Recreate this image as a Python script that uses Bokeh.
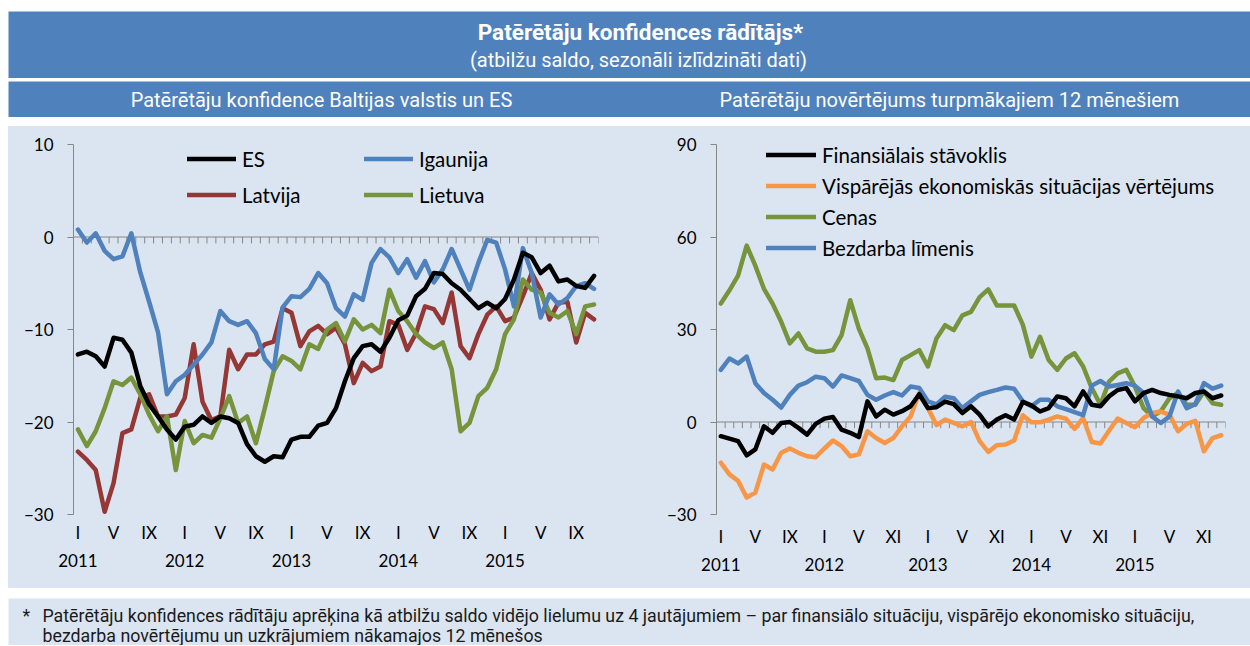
from bokeh.plotting import figure
from bokeh.layouts import column, row
from bokeh.models import Range1d, FixedTicker, Span, Legend, LegendItem, LinearAxis, Spacer
from bokeh.core.properties import value
from bokeh.embed import file_html
from bokeh.resources import INLINE

# ---------------- data ----------------
N = 59
months = list(range(N))  # Jan 2011 .. Nov 2015
left_roman = ["I", "V", "IX", "I", "V", "IX", "I", "V", "IX", "I", "V", "IX", "I", "V", "IX"]
right_roman = ["I", "V", "IX", "I", "V", "XI", "I", "V", "XI", "I", "V", "XI", "I", "V", "XI"]
years = ["2011", "2012", "2013", "2014", "2015"]

es = [-12.7, -12.4, -12.9, -14.0, -10.9, -11.1, -12.5, -16.1, -18.1, -19.4,
      -20.8, -21.9, -20.5, -20.3, -19.4, -20.1, -19.4, -19.6, -20.1, -22.4,
      -23.7, -24.3, -23.7, -23.8, -21.9, -21.6, -21.6, -20.4, -20.1, -18.5,
      -15.6, -13.1, -11.8, -11.6, -12.4, -10.9, -9.0, -8.5, -6.4, -5.6,
      -3.9, -4.0, -5.0, -5.7, -6.7, -7.7, -7.1, -7.7, -6.7, -4.6,
      -1.7, -2.2, -3.9, -3.1, -4.8, -4.6, -5.3, -5.5, -4.2]
igaunija = [0.8, -0.6, 0.4, -1.5, -2.4, -2.1, 0.4, -3.8, -7.0, -10.3,
            -17.0, -15.6, -14.9, -13.8, -12.7, -11.4, -8.0, -9.1, -9.5, -9.1,
            -10.4, -13.2, -14.3, -7.6, -6.4, -6.5, -5.6, -3.9, -5.0, -7.7,
            -8.6, -6.2, -6.8, -2.8, -1.3, -2.2, -3.9, -2.4, -4.4, -2.6,
            -4.9, -3.5, -1.3, -3.5, -5.7, -2.8, -0.3, -0.6, -3.5, -7.5,
            -1.2, -3.9, -8.7, -6.2, -7.3, -6.6, -5.3, -5.0, -5.6]
latvija = [-23.2, -24.1, -25.2, -29.7, -26.6, -21.2, -20.8, -17.4, -17.0, -19.4,
           -19.4, -19.2, -17.4, -11.6, -17.8, -19.8, -19.4, -12.2, -14.3, -12.7,
           -12.7, -11.6, -11.3, -7.7, -8.2, -11.8, -10.2, -9.6, -10.5, -9.8,
           -11.6, -15.8, -13.6, -14.5, -14.0, -9.1, -9.5, -12.2, -10.4, -7.5,
           -7.8, -9.3, -6.0, -11.8, -13.1, -10.5, -8.4, -7.5, -9.1, -8.7,
           -6.4, -3.9, -5.7, -8.9, -7.1, -7.0, -11.4, -8.2, -8.9]
lietuva = [-20.8, -22.6, -21.0, -18.5, -15.6, -16.0, -15.2, -17.0, -19.2, -21.0,
           -19.4, -25.2, -19.9, -22.3, -21.4, -21.7, -19.6, -17.2, -20.1, -19.4,
           -22.3, -18.5, -14.5, -12.9, -13.4, -14.3, -11.6, -12.1, -10.0, -9.3,
           -11.3, -8.9, -10.0, -9.5, -10.4, -5.7, -8.0, -9.1, -10.5, -11.4,
           -12.0, -11.4, -14.3, -21.0, -20.1, -17.2, -16.3, -14.3, -10.5, -8.9,
           -4.6, -5.7, -6.0, -8.2, -8.7, -8.0, -10.5, -7.5, -7.3]

finans = [-4.6, -5.4, -6.2, -10.8, -8.9, -1.4, -3.5, -0.3, 0.0, -1.9,
          -4.1, -0.6, 1.1, 1.6, -2.5, -3.5, -4.9, 6.7, 1.8, 4.0,
          2.4, 3.5, 5.1, 9.0, 4.5, 4.8, 6.6, 5.8, 2.9, 5.1,
          2.4, -1.4, 0.8, 2.2, 0.8, 6.5, 5.4, 3.4, 4.5, 8.3,
          7.7, 5.1, 9.9, 5.6, 5.1, 8.3, 10.4, 11.0, 6.7, 9.4,
          10.4, 9.4, 8.8, 8.3, 7.7, 9.4, 9.9, 7.7, 8.6]
ekonom = [-13.2, -17.0, -19.1, -24.5, -22.9, -13.8, -15.4, -10.0, -8.6, -10.0,
          -11.1, -11.4, -8.6, -6.0, -7.8, -11.1, -10.5, -3.0, -5.2, -6.8,
          -5.2, -1.4, 1.8, 9.4, 4.5, -1.0, 0.8, -0.3, -1.4, 0.0,
          -6.2, -9.7, -7.5, -7.3, -6.0, 2.2, -0.1, -0.1, 0.8, 1.8,
          1.1, -2.2, 1.3, -6.5, -7.0, -2.8, 1.1, -0.3, -1.7, 1.3,
          2.9, 3.4, 2.4, -3.0, -0.6, 0.4, -9.5, -5.2, -4.3]
cenas = [38.4, 42.7, 47.5, 57.2, 50.7, 43.2, 38.4, 32.5, 25.5, 28.7,
         23.9, 22.8, 22.8, 23.3, 28.2, 39.5, 30.3, 23.9, 14.2, 14.4,
         13.6, 20.1, 21.7, 23.3, 18.0, 27.1, 31.4, 29.8, 34.6, 35.7,
         40.5, 43.0, 37.8, 37.8, 37.8, 31.6, 21.2, 27.6, 20.1, 16.9,
         20.6, 22.3, 18.0, 11.0, 5.6, 13.1, 15.8, 16.9, 11.5, 4.5,
         1.8, 3.5, 7.7, 9.4, 5.6, 5.6, 9.9, 6.1, 5.6]
bezdarbs = [16.9, 20.6, 19.0, 21.2, 12.6, 9.4, 7.2, 4.7, 8.8, 11.8,
            12.9, 14.7, 14.2, 11.5, 15.1, 14.2, 13.3, 8.8, 7.2, 8.6,
            9.7, 8.6, 11.5, 11.0, 6.7, 5.7, 8.2, 7.7, 4.5, 6.7,
            8.8, 9.7, 10.4, 11.2, 10.8, 6.7, 5.1, 7.2, 7.2, 5.1,
            4.2, 3.2, 2.2, 11.8, 13.3, 11.5, 12.0, 12.6, 11.8, 9.4,
            1.8, -0.3, 1.8, 9.9, 4.5, 5.8, 12.6, 10.8, 11.8]

# ---------------- styles ----------------
BAR = "#4F81BD"
PANEL = "#DBE5F1"
AXIS = "#868686"
C_BLACK = "#000000"
C_BLUE = "#4F81BD"
C_RED = "#953735"
C_GREEN = "#77933C"
C_ORANGE = "#F79646"
HFONT = "Roboto"
CFONT = "Lato"
W = 1242


def band(w, h, color):
    p = figure(width=w, height=h, x_range=Range1d(0, w), y_range=Range1d(0, h),
               output_backend="svg", toolbar_location=None, x_axis_type=None,
               y_axis_type=None, min_border=0, background_fill_color=color,
               border_fill_color=color, outline_line_color=None)
    return p


def label(p, x, y, txt, size, color="white", bold=False, align="center"):
    p.text(x=[x], y=[y], text=[txt], text_font=value(HFONT), text_font_size=size,
           text_font_style="bold" if bold else "normal", text_color=color,
           text_align=align, text_baseline="middle")


header = band(W, 67, BAR)
label(header, 632, 47, "Patērētāju konfidences rādītājs*", "22.5px", bold=True)
label(header, 630, 19, "(atbilžu saldo, sezonāli izlīdzināti dati)", "20px")

sub = band(W, 36, BAR)
label(sub, 313, 18, "Patērētāju konfidence Baltijas valstis un ES", "20px")
label(sub, 941, 18, "Patērētāju novērtējums turpmākajiem 12 mēnešiem", "20px")

TOP, BOTTOM = 18, 74  # both charts share frame top/bottom (row aligns them)


def chart(width, bl, br, yr, yticks, tick_len, series, roman, legends,
          roman_standoff, year_standoff):
    p = figure(width=width, height=462, x_range=Range1d(-0.5, N - 0.5),
               y_range=Range1d(*yr), output_backend="svg", toolbar_location=None,
               x_axis_type=None, y_axis_type=None,
               min_border_left=bl, min_border_right=br, min_border_top=TOP,
               min_border_bottom=BOTTOM, background_fill_color=PANEL,
               border_fill_color=PANEL, outline_line_color=None)
    # zero line with category tick marks
    p.add_layout(Span(location=0, dimension="width", line_color=AXIS,
                      line_width=1, level="underlay"))
    bounds = [i + 0.5 for i in range(-1, N)]
    p.segment(x0=bounds, x1=bounds, y0=[0] * len(bounds),
              y1=[-tick_len] * len(bounds), line_color=AXIS, line_width=1,
              level="underlay")
    # y axis
    ya = LinearAxis(ticker=FixedTicker(ticks=yticks))
    ya.axis_line_color = AXIS
    ya.major_tick_line_color = AXIS
    ya.major_tick_out = 6
    ya.major_tick_in = 0
    ya.minor_tick_line_color = None
    ya.major_label_standoff = 14
    ya.major_label_text_font = CFONT
    ya.major_label_text_font_size = "17px"
    ya.major_label_text_color = "#000000"
    p.add_layout(ya, "left")
    # roman month labels and year labels below the plot
    rt = list(range(0, N, 4))
    xa = LinearAxis(ticker=FixedTicker(ticks=rt),
                    major_label_overrides={t: r for t, r in zip(rt, roman)})
    yt = list(range(0, N, 12))
    xb = LinearAxis(ticker=FixedTicker(ticks=yt),
                    major_label_overrides={t: y for t, y in zip(yt, years)})
    for ax, so in ((xa, roman_standoff), (xb, year_standoff)):
        ax.axis_line_color = None
        ax.major_tick_line_color = None
        ax.minor_tick_line_color = None
        ax.major_tick_out = 0
        ax.major_tick_in = 0
        ax.major_label_standoff = so
        ax.major_label_text_font = CFONT
        ax.major_label_text_font_size = "17px"
        ax.major_label_text_color = "#000000"
        p.add_layout(ax, "below")
    rends = {}
    for name, vals, color in series:
        rends[name] = p.line(months, vals, line_color=color, line_width=4.5,
                             line_join="round", line_cap="round")
    for names, loc, gw, spacing in legends:
        lg = Legend(items=[LegendItem(label=n, renderers=[rends[n]]) for n in names],
                    location=loc, glyph_width=gw, glyph_height=25, label_height=25,
                    label_standoff=6, spacing=spacing, padding=0, margin=0,
                    border_line_color=None, background_fill_alpha=0,
                    label_text_font=CFONT, label_text_font_size="20.5px",
                    label_text_color="#000000")
        p.add_layout(lg)
    return p


left = chart(617, 65, 27, (-30, 10), [-30, -20, -10, 0, 10], 0.7,
             [("Latvija", latvija, C_RED), ("Lietuva", lietuva, C_GREEN),
              ("Igaunija", igaunija, C_BLUE), ("ES", es, C_BLACK)],
             left_roman,
             [(["ES", "Latvija"], (114, 307), 49, 11),
              (["Igaunija", "Lietuva"], (291, 307), 49, 11)],
             7, 8)

right = chart(625, 91, 25, (-30, 90), [-30, 0, 30, 60, 90], 2.0,
              [("Cenas", cenas, C_GREEN),
               ("Vispārējās ekonomiskās situācijas vērtējums", ekonom, C_ORANGE),
               ("Bezdarba līmenis", bezdarbs, C_BLUE),
               ("Finansiālais stāvoklis", finans, C_BLACK)],
              right_roman,
              [(["Finansiālais stāvoklis",
                 "Vispārējās ekonomiskās situācijas vērtējums",
                 "Cenas", "Bezdarba līmenis"], (50, 254), 50, 6)],
              11, 8)

foot = band(W, 47, PANEL)
label(foot, 14, 30, "*", "17.8px", color="#1a1a1a", align="left")
label(foot, 34, 30, "Patērētāju konfidences rādītāju aprēķina kā atbilžu saldo vidējo lielumu uz 4 "
      "jautājumiem – par finansiālo situāciju, vispārējo ekonomisko situāciju,",
      "17.8px", color="#1a1a1a", align="left")
label(foot, 34, 10, "bezdarba novērtējumu un uzkrājumiem nākamajos 12 mēnešos",
      "17.8px", color="#1a1a1a", align="left")

charts = row(left, right, styles={"background-color": PANEL})
content = column(Spacer(width=W, height=11), header, Spacer(width=W, height=3), sub,
                 Spacer(width=W, height=9), charts, Spacer(width=W, height=10),
                 foot)
layout = row(Spacer(width=8, height=645), content)

open("out.html", "w").write(file_html(layout, INLINE, title="Patērētāju konfidences rādītājs"))
